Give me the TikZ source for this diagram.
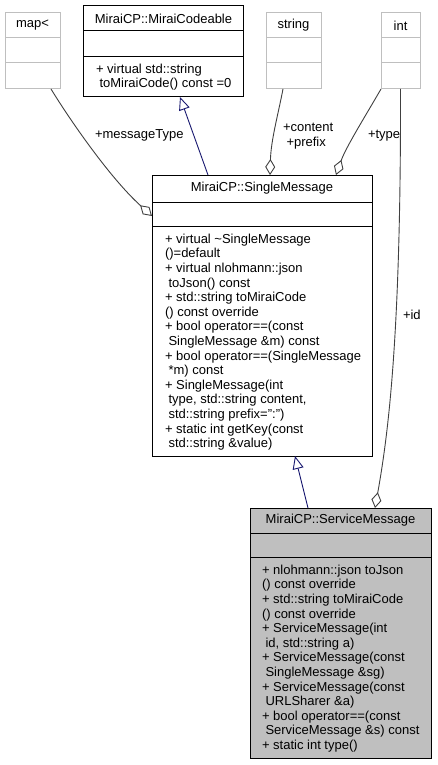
\documentclass[tikz,border=0pt]{standalone}
\usepackage{fontspec}
\setmainfont{Liberation Sans}
\usetikzlibrary{arrows.meta}
\definecolor{edgegray}{HTML}{404040}
\definecolor{lightborder}{HTML}{BFBFBF}
\definecolor{navyedge}{HTML}{191970}
\definecolor{grayfill}{HTML}{BFBFBF}
\newcommand\ind{\hspace*{3.5pt}}
\newcommand\memlines[1]{\vtop{\baselineskip=14.6pt\lineskiplimit=-20pt\lineskip=0pt #1}}
\newcommand\ml[1]{\hbox{#1}}
\begin{document}
\begin{tikzpicture}[x=1pt,y=-1pt,
  every node/.style={font=\fontsize{13}{14.6}\selectfont, inner sep=0pt, outer sep=0pt},
  clsbox/.style={draw=black, line width=1pt, fill=white, anchor=north west},
  extbox/.style={draw=lightborder, line width=1pt, fill=white, anchor=north west},
  sepline/.style={draw=black, line width=1pt},
  extsep/.style={draw=lightborder, line width=1pt},
  members/.style={anchor=base west},
  inh/.style={draw=navyedge, line width=0.9pt, -{Triangle[open, length=13pt, width=11pt, fill=white]}},
  agg/.style={draw=edgegray, line width=0.9pt, -{Diamond[open, length=16pt, width=10pt, fill=white]}},
  lbl/.style={anchor=base west}
]
\useasboundingbox (0,0) rectangle (437,765);

% external boxes
\node[extbox, minimum width=55pt, minimum height=76pt] (map) at (5,13) {};
\draw[extsep] (5,38) -- (60,38) (5,63) -- (60,63);
\node (maptitle) at (32.5,25.5) {map<};

\node[extbox, minimum width=55pt, minimum height=76pt] (str) at (266,13) {};
\draw[extsep] (266,38) -- (321,38) (266,63) -- (321,63);
\node (strtitle) at (293.5,25.5) {string};

\node[extbox, minimum width=39pt, minimum height=76pt] (int) at (381,13) {};
\draw[extsep] (381,38) -- (420,38) (381,63) -- (420,63);
\node (inttitle) at (400.5,25.5) {int};

% MiraiCodeable
\node[clsbox, minimum width=160pt, minimum height=91pt] (mc) at (83,6) {};
\draw[sepline] (83,31) -- (243,31) (83,57) -- (243,57);
\node (mctitle) at (163.5,18.5) {MiraiCP::MiraiCodeable};
\node[members] (mcmem) at (96,73.3) {\memlines{\ml{+ virtual std::string}\ml{\ind toMiraiCode() const =0}}};

% SingleMessage
\node[clsbox, minimum width=220pt, minimum height=281pt] (sm) at (152,175) {};
\draw[sepline] (152,202) -- (372,202) (152,226) -- (372,226);
\node (smtitle) at (262,188.5) {MiraiCP::SingleMessage};
\node[members] (smmem) at (165,243.3) {\memlines{%
\ml{+ virtual \textasciitilde SingleMessage}%
\ml{()=default}%
\ml{+ virtual nlohmann::json}%
\ml{\ind toJson() const}%
\ml{+ std::string toMiraiCode}%
\ml{() const override}%
\ml{+ bool operator==(const}%
\ml{\ind SingleMessage \&m) const}%
\ml{+ bool operator==(SingleMessage}%
\ml{\ind *m) const}%
\ml{+ SingleMessage(int}%
\ml{\ind type, std::string content,}%
\ml{\ind std::string prefix=":")}%
\ml{+ static int getKey(const}%
\ml{\ind std::string \&value)}}};

% ServiceMessage
\node[clsbox, fill=grayfill, minimum width=181pt, minimum height=250pt] (svc) at (250,508) {};
\draw[sepline] (250,533) -- (431,533) (250,557) -- (431,557);
\node (svctitle) at (340.5,520.5) {MiraiCP::ServiceMessage};
\node[members] (svcmem) at (262,574.3) {\memlines{%
\ml{+ nlohmann::json toJson}%
\ml{() const override}%
\ml{+ std::string toMiraiCode}%
\ml{() const override}%
\ml{+ ServiceMessage(int}%
\ml{\ind id, std::string a)}%
\ml{+ ServiceMessage(const}%
\ml{\ind SingleMessage \&sg)}%
\ml{+ ServiceMessage(const}%
\ml{\ind URLSharer \&a)}%
\ml{+ bool operator==(const}%
\ml{\ind ServiceMessage \&s) const}%
\ml{+ static int type()}}};

% inheritance
\draw[inh] ([xshift=-54pt]sm.north) -- ([xshift=17pt]mc.south);
\draw[inh] ([xshift=-32.5pt]svc.north) -- ([xshift=33pt]sm.south);

% aggregations
\draw[agg] ([xshift=18.5pt]map.south) .. controls (70,120) and (110,178) .. ([yshift=-41pt]sm.north west);
\draw[agg] ([xshift=-10.5pt]str.south) .. controls (278,115) and (271,140) .. ([xshift=8pt]sm.north);
\draw[agg] (int.south west) .. controls (366,115) and (346,147) .. ([xshift=74pt]sm.north);
\draw[agg] (int.south) .. controls (401,330) and (389,430) .. ([xshift=34.5pt]svc.north);

% labels
\node[lbl] (lmt) at (95,138.5) {+messageType};
\node[lbl] (lcp) at (283,131.7) {\memlines{\ml{+content}\ml{\ind+prefix}}};
\node[lbl] (lty) at (368,138.5) {+type};
\node[lbl] (lid) at (403,319) {+id};
\end{tikzpicture}
\end{document}
